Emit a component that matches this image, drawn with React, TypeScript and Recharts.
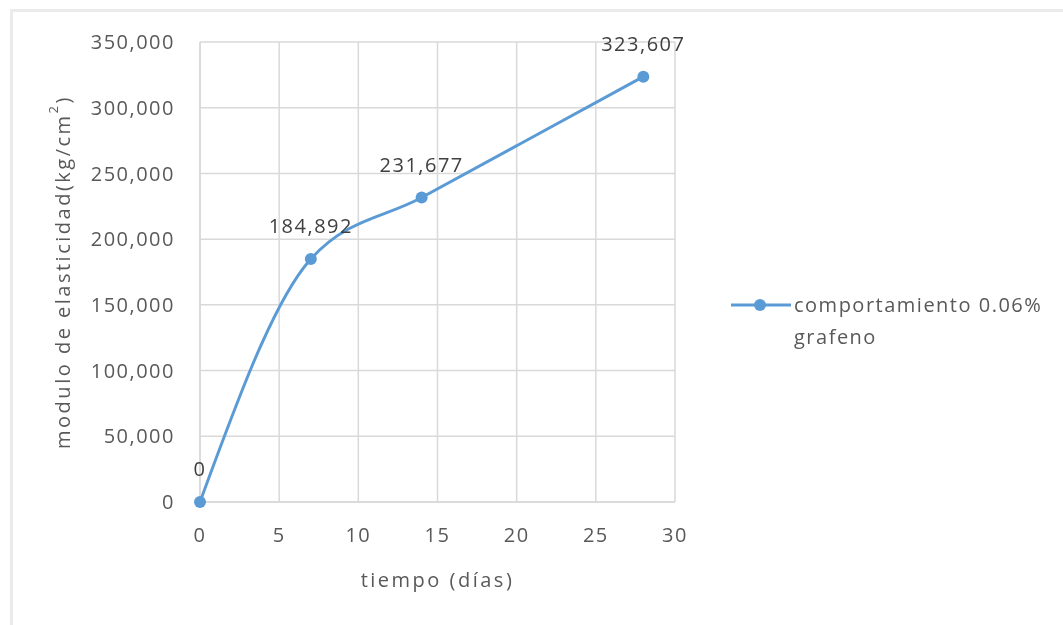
import { LineChart, Line, XAxis, YAxis, CartesianGrid, Legend, LabelList, Label } from 'recharts';

// tiempo (días) vs modulo de elasticidad
const dias = [0, 7, 14, 28];
const modulo = [0, 184892, 231677, 323607];
const xTicks = [0, 5, 10, 15, 20, 25, 30];
const yTicks = [0, 50000, 100000, 150000, 200000, 250000, 300000, 350000];
const serieNombre = 'comportamiento 0.06% grafeno';

const data = dias.map((d, i) => ({ dia: d, valor: modulo[i] }));

const FONT = '"Open Sans", sans-serif';
const TEXT = '#595959';
const BLUE = '#5b9bd5';
const GRID = '#d9d9d9';

const fmt = (v: number) => v.toLocaleString('en-US');

const YTitle = (props: any) => {
    const vb = props.viewBox || {};
    const cx = 54;
    const cy = vb.y + vb.height / 2;
    return (
        <text
            x={cx}
            y={cy}
            transform={`rotate(-90, ${cx}, ${cy})`}
            textAnchor="middle"
            dominantBaseline="central"
            fill={TEXT}
            fontFamily={FONT}
            fontSize={20}
            letterSpacing={2.5}
        >
            modulo de elasticidad(kg/cm
            <tspan fontSize={13} dy={-9}>2</tspan>
            <tspan dy={9}>)</tspan>
        </text>
    );
};

const LegendBox = () => (
    <div style={{ display: 'flex', alignItems: 'flex-start', paddingLeft: 55, fontFamily: FONT, fontSize: 20, color: TEXT, letterSpacing: 1.5 }}>
        <svg width={62} height={24} style={{ flex: 'none' }}>
            <line x1={1} y1={12} x2={61} y2={12} stroke={BLUE} strokeWidth={3} />
            <circle cx={30} cy={12} r={6} fill={BLUE} />
        </svg>
        <div style={{ lineHeight: '32px', marginTop: -4, width: 258, flex: 'none', paddingLeft: 2 }}>{serieNombre}</div>
    </div>
);

export default function App() {
    return (
        <div style={{ position: 'relative', width: 1047, height: 609 }}>
            <div style={{ position: 'fixed', left: 10, top: 9, width: 1200, height: 800, borderTop: '3px solid #ebebeb', borderLeft: '3px solid #ebebeb' }} />
            <LineChart width={1047} height={609} data={data} margin={{ top: 34, right: 0, bottom: 0, left: 0 }}>
                <CartesianGrid stroke={GRID} strokeWidth={1.5} />
                <XAxis
                    dataKey="dia"
                    type="number"
                    domain={[0, 30]}
                    ticks={xTicks}
                    height={115}
                    tickSize={0}
                    tickMargin={26}
                    axisLine={{ stroke: GRID, strokeWidth: 1.5 }}
                    tick={{ fill: TEXT, fontFamily: FONT, fontSize: 20, letterSpacing: 1.5 }}
                >
                    <Label value="tiempo (días)" position="insideBottom" offset={30} fill={TEXT} fontFamily={FONT} fontSize={20} letterSpacing={2.5} />
                </XAxis>
                <YAxis
                    type="number"
                    domain={[0, 350000]}
                    ticks={yTicks}
                    width={192}
                    tickSize={0}
                    tickMargin={25}
                    tickFormatter={fmt}
                    axisLine={{ stroke: GRID, strokeWidth: 1.5 }}
                    tick={{ fill: TEXT, fontFamily: FONT, fontSize: 20, letterSpacing: 1.5 }}
                    label={<YTitle />}
                />
                <Legend
                    layout="vertical"
                    align="right"
                    verticalAlign="middle"
                    content={<LegendBox />}
                    wrapperStyle={{ width: 380, top: 285 }}
                />
                <Line
                    type="monotone"
                    dataKey="valor"
                    name={serieNombre}
                    stroke={BLUE}
                    strokeWidth={3}
                    dot={{ r: 6, fill: BLUE, stroke: BLUE, strokeWidth: 0 }}
                    activeDot={false}
                    isAnimationActive={false}
                >
                    <LabelList dataKey="valor" position="top" offset={26} formatter={(v: any) => fmt(Number(v))} fill="#404040" fontFamily={FONT} fontSize={20} letterSpacing={1.5} />
                </Line>
            </LineChart>
        </div>
    );
}
